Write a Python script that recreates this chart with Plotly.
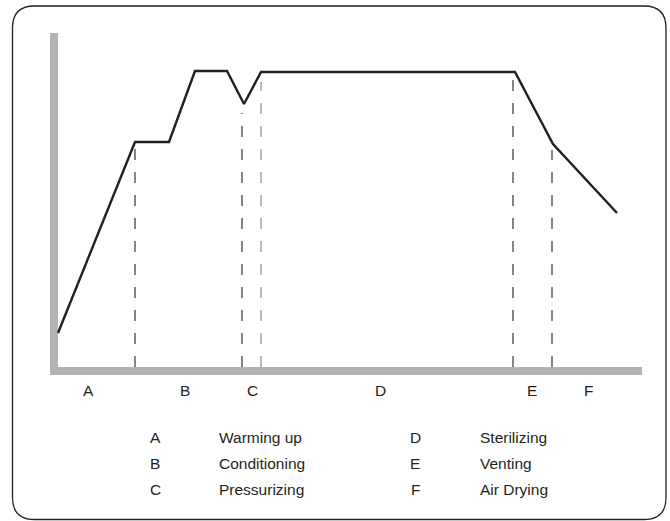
import plotly.graph_objects as go

# Curva del ciclo (tiempo, temperatura) en unidades arbitrarias
tiempo = [0, 77, 111, 137, 169, 186, 203, 457, 495, 559]
temperatura = [34, 225, 225, 296, 296, 263, 295, 295, 223, 154]

# Límites de fase (líneas discontinuas)
limite_tiempo = [77, 184, 203, 455, 494]
limite_tope = [225, 254, 285, 290, 217]
limite_color = ['#333333', '#333333', '#8a8a8a', '#333333', '#333333']

# Etiquetas de fase bajo el eje
fases = ['A', 'B', 'C', 'D', 'E', 'F']
fase_tiempo = [30, 127, 194, 322, 474, 530]

# Leyenda de fases
leyenda_col1 = [('A', 'Warming up'), ('B', 'Conditioning'), ('C', 'Pressurizing')]
leyenda_col2 = [('D', 'Sterilizing'), ('E', 'Venting'), ('F', 'Air Drying')]

fig = go.Figure()

# Ejes grises gruesos
fig.add_shape(type='rect', x0=-8, x1=0, y0=-8, y1=334, fillcolor='#b1b3b6', line_width=0, layer='below')
fig.add_shape(type='rect', x0=-8, x1=584, y0=-8, y1=0, fillcolor='#b1b3b6', line_width=0, layer='below')

# Líneas discontinuas
for t, tope, c in zip(limite_tiempo, limite_tope, limite_color):
    fig.add_trace(go.Scatter(x=[t, t], y=[0, tope], mode='lines',
                             line=dict(color=c, width=1.2, dash='11px,12px'),
                             hoverinfo='skip', showlegend=False))

# Curva principal
fig.add_trace(go.Scatter(x=tiempo, y=temperatura, mode='lines',
                         line=dict(color='#231f20', width=2.4),
                         showlegend=False))

fuente = dict(family='Liberation Sans, Arial, sans-serif', size=15.5, color='#231f20')

for f, t in zip(fases, fase_tiempo):
    fig.add_annotation(x=t, y=-23, text=f, showarrow=False, font=fuente)

filas = [-70, -96, -122]
for (letra, texto), y in zip(leyenda_col1, filas):
    fig.add_annotation(x=97, y=y, text=letra, showarrow=False, font=fuente)
    fig.add_annotation(x=159, y=y, text=texto, showarrow=False, font=fuente, xanchor='left')
for (letra, texto), y in zip(leyenda_col2, filas):
    fig.add_annotation(x=357, y=y, text=letra, showarrow=False, font=fuente)
    fig.add_annotation(x=420, y=y, text=texto, showarrow=False, font=fuente, xanchor='left')

# Marco redondeado
x0, x1, y0, y1, r = -45.5, 608, -152.5, 361, 22
path = (f'M {x0 + r},{y1} L {x1 - r},{y1} Q {x1},{y1} {x1},{y1 - r} '
        f'L {x1},{y0 + r} Q {x1},{y0} {x1 - r},{y0} '
        f'L {x0 + r},{y0} Q {x0},{y0} {x0},{y0 + r} '
        f'L {x0},{y1 - r} Q {x0},{y1} {x0 + r},{y1} Z')
fig.add_shape(type='path', path=path, line=dict(color='#231f20', width=1.3))

fig.update_layout(
    width=670, height=521,
    margin=dict(l=0, r=0, t=0, b=0),
    paper_bgcolor='white', plot_bgcolor='white',
    xaxis=dict(range=[-58, 612], visible=False, fixedrange=True),
    yaxis=dict(range=[-154, 367], visible=False, fixedrange=True),
)

fig.write_html("out.html", config={'displayModeBar': False},
               post_script="document.body.style.margin='0';document.body.style.overflow='hidden';")
